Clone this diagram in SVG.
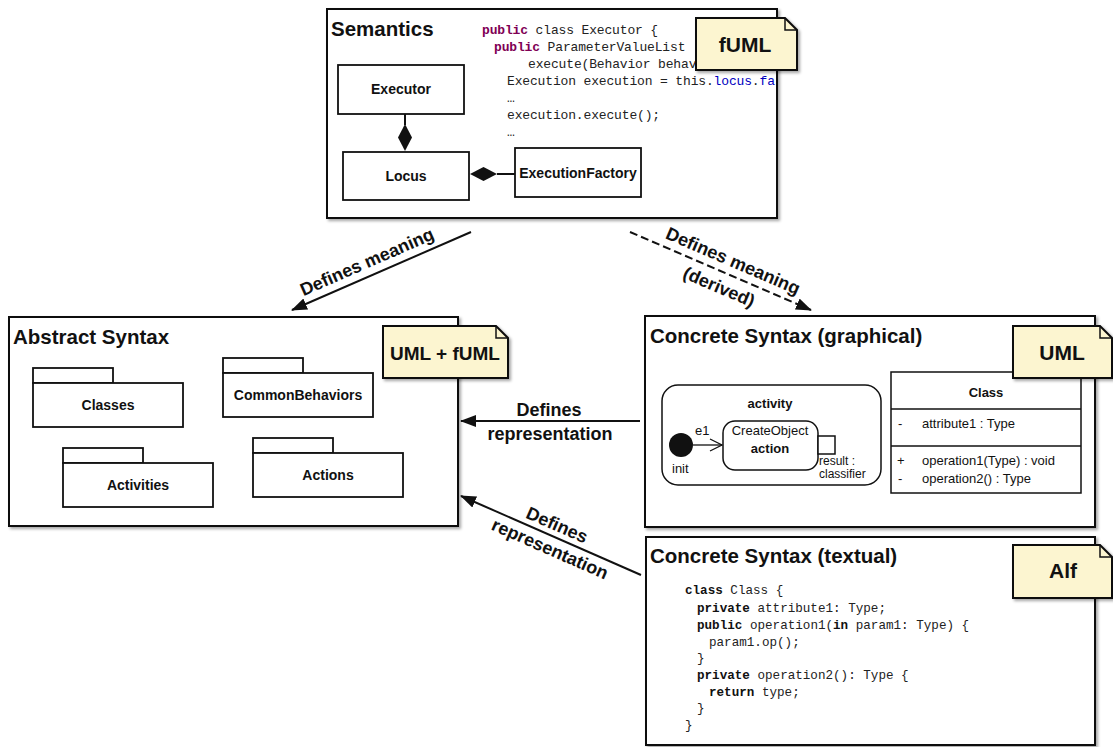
<svg xmlns="http://www.w3.org/2000/svg" width="1113" height="747" viewBox="0 0 1113 747">
<style>
.box{fill:#fff;stroke:#111;stroke-width:2}
.ibox{fill:#fff;stroke:#111;stroke-width:1.8}
.note{fill:#FCF5D0;stroke:#111;stroke-width:2}
.fold{fill:none;stroke:#111;stroke-width:1.5}
.title{font-family:"Liberation Sans",Arial,sans-serif;font-weight:bold;font-size:20.5px;fill:#111}
.nt{font-family:"Liberation Sans",Arial,sans-serif;font-weight:bold;font-size:21px;fill:#111;text-anchor:middle}
.lbl{font-family:"Liberation Sans",Arial,sans-serif;font-weight:bold;font-size:14px;fill:#111;text-anchor:middle}
.sm{font-family:"Liberation Sans",Arial,sans-serif;font-size:13px;fill:#111}
.xs{font-family:"Liberation Sans",Arial,sans-serif;font-size:12px;fill:#111}
.smb{font-family:"Liberation Sans",Arial,sans-serif;font-size:13px;font-weight:bold;fill:#111}
.conn{font-family:"Liberation Sans",Arial,sans-serif;font-weight:bold;font-size:18px;fill:#111;text-anchor:middle}
.code{font-family:"Liberation Mono","DejaVu Sans Mono",monospace;font-size:13px;letter-spacing:-0.15px;fill:#222}
.alf{font-family:"Liberation Mono","DejaVu Sans Mono",monospace;font-size:12.6px;fill:#222}
.kw{fill:#7F0055;font-weight:bold}
.fld{fill:#0000C0}
.b{font-weight:bold;fill:#111}
.edge{fill:none;stroke:#111;stroke-width:2}
</style>
<defs>
<filter id="sh" x="-5%" y="-5%" width="115%" height="115%">
<feDropShadow dx="2" dy="2" stdDeviation="1.5" flood-color="#000" flood-opacity="0.35"/>
</filter>
<marker id="ah" markerUnits="userSpaceOnUse" markerWidth="16" markerHeight="12" refX="15" refY="6" orient="auto">
<path d="M0,0 L16,6 L0,12 Z" fill="#111"/>
</marker>
<clipPath id="semclip"><rect x="328" y="10" width="448" height="207"/></clipPath>
</defs>

<!-- Semantics -->
<g id="semantics">
<rect class="box" x="327" y="9" width="450" height="209" filter="url(#sh)"/>
<text class="title" x="331" y="36">Semantics</text>
<g clip-path="url(#semclip)">
<text class="code" x="482" y="34"><tspan class="kw">public</tspan> class Executor {</text>
<text class="code" x="494" y="51"><tspan class="kw">public</tspan> ParameterValueList</text>
<text class="code" x="528" y="68">execute(Behavior behav</text>
<text class="code" x="507" y="85">Execution execution = this.<tspan class="fld">locus</tspan>.<tspan class="fld">fa</tspan></text>
<text class="code" x="507" y="102">…</text>
<text class="code" x="507" y="119">execution.execute();</text>
<text class="code" x="507" y="136">…</text>
</g>
<g id="executor">
<rect class="ibox" x="338" y="65" width="126" height="49"/>
<text class="lbl" x="401" y="94">Executor</text>
</g>
<g id="locus">
<rect class="ibox" x="343" y="152" width="126" height="48"/>
<text class="lbl" x="406" y="181">Locus</text>
</g>
<g id="executionFactory">
<rect class="ibox" x="515" y="148" width="126" height="49"/>
<text class="lbl" x="578" y="178">ExecutionFactory</text>
</g>
<line class="edge" x1="405" y1="114" x2="405" y2="125" stroke-width="1.5"/>
<path d="M405,124 L412,137.5 L405,151 L398,137.5 Z" fill="#111"/>
<line class="edge" x1="497" y1="174" x2="515" y2="174" stroke-width="1.5"/>
<path d="M470,174 L483.5,167 L497,174 L483.5,181 Z" fill="#111"/>
</g>
<g id="note-fuml">
<path class="note" d="M696,18 H785 L797,30 V70 H696 Z" filter="url(#sh)"/>
<path class="fold" d="M785,18 V30 H797"/>
<text class="nt" x="745" y="52">fUML</text>
</g>

<!-- Abstract Syntax -->
<g id="abstract">
<rect class="box" x="9" y="317" width="449" height="209" filter="url(#sh)"/>
<text class="title" x="13" y="344">Abstract Syntax</text>
<g id="pkg-classes">
<rect class="ibox" x="33" y="368" width="80" height="15"/>
<rect class="ibox" x="33" y="383" width="150" height="44"/>
<text class="lbl" x="108" y="410">Classes</text>
</g>
<g id="pkg-common">
<rect class="ibox" x="223" y="358" width="80" height="15"/>
<rect class="ibox" x="223" y="373" width="150" height="44"/>
<text class="lbl" x="298" y="400">CommonBehaviors</text>
</g>
<g id="pkg-activities">
<rect class="ibox" x="63" y="448" width="80" height="15"/>
<rect class="ibox" x="63" y="463" width="150" height="44"/>
<text class="lbl" x="138" y="490">Activities</text>
</g>
<g id="pkg-actions">
<rect class="ibox" x="253" y="438" width="80" height="15"/>
<rect class="ibox" x="253" y="453" width="150" height="44"/>
<text class="lbl" x="328" y="480">Actions</text>
</g>
</g>
<g id="note-umlfuml">
<path class="note" d="M383,326 H496 L508,338 V378 H383 Z" filter="url(#sh)"/>
<path class="fold" d="M496,326 V338 H508"/>
<text class="nt" x="445" y="360" style="font-size:19px">UML + fUML</text>
</g>

<!-- Concrete Syntax (graphical) -->
<g id="graphical">
<rect class="box" x="645" y="316" width="450" height="211" filter="url(#sh)"/>
<text class="title" x="650" y="343">Concrete Syntax (graphical)</text>
<g id="activity">
<rect x="662" y="385" width="219" height="100" rx="16" fill="#fff" stroke="#111" stroke-width="1.5"/>
<text class="smb" x="770" y="408" text-anchor="middle">activity</text>
<circle cx="681" cy="445" r="12" fill="#111"/>
<text class="sm" x="672" y="473">init</text>
<line x1="693" y1="445" x2="722" y2="445" stroke="#111" stroke-width="1.3"/>
<path d="M710,439 L722,445 L710,451" fill="none" stroke="#111" stroke-width="1.3"/>
<text class="sm" x="695" y="435">e1</text>
<rect x="723" y="421" width="95" height="49" rx="12" fill="#fff" stroke="#111" stroke-width="1.5"/>
<text class="sm" x="770" y="435" text-anchor="middle">CreateObject</text>
<text class="smb" x="770" y="453" text-anchor="middle">action</text>
<rect x="818" y="436" width="17" height="18" fill="#fff" stroke="#111" stroke-width="1.5"/>
<text class="xs" x="819" y="465">result :</text>
<text class="xs" x="819" y="478">classifier</text>
</g>
<g id="class">
<rect x="891" y="372" width="190" height="121" fill="#fff" stroke="#111" stroke-width="1.5"/>
<line x1="891" y1="409" x2="1081" y2="409" stroke="#111" stroke-width="1.5"/>
<line x1="891" y1="446" x2="1081" y2="446" stroke="#111" stroke-width="1.5"/>
<text class="smb" x="986" y="397" text-anchor="middle">Class</text>
<text class="sm" x="898" y="428">-</text>
<text class="sm" x="922" y="428">attribute1 : Type</text>
<text class="sm" x="897" y="465">+</text>
<text class="sm" x="922" y="465">operation1(Type) : void</text>
<text class="sm" x="898" y="483">-</text>
<text class="sm" x="922" y="483">operation2() : Type</text>
</g>
</g>
<g id="note-uml">
<path class="note" d="M1013,326 H1100 L1112,338 V378 H1013 Z" filter="url(#sh)"/>
<path class="fold" d="M1100,326 V338 H1112"/>
<text class="nt" x="1062" y="360">UML</text>
</g>

<!-- Concrete Syntax (textual) -->
<g id="textual">
<rect class="box" x="646" y="537" width="449" height="208" filter="url(#sh)"/>
<text class="title" x="650" y="563">Concrete Syntax (textual)</text>
<text class="alf" x="685" y="594"><tspan class="b">class</tspan> Class {</text>
<text class="alf" x="697" y="612"><tspan class="b">private</tspan> attribute1: Type;</text>
<text class="alf" x="697" y="629"><tspan class="b">public</tspan> operation1(<tspan class="b">in</tspan> param1: Type) {</text>
<text class="alf" x="709" y="646">param1.op();</text>
<text class="alf" x="697" y="662">}</text>
<text class="alf" x="697" y="679"><tspan class="b">private</tspan> operation2(): Type {</text>
<text class="alf" x="709" y="696"><tspan class="b">return</tspan> type;</text>
<text class="alf" x="697" y="712">}</text>
<text class="alf" x="685" y="729">}</text>
</g>
<g id="note-alf">
<path class="note" d="M1013,545 H1100 L1112,557 V598 H1013 Z" filter="url(#sh)"/>
<path class="fold" d="M1100,545 V557 H1112"/>
<text class="nt" x="1063" y="578">Alf</text>
</g>

<!-- Connectors -->
<g id="connectors">
<line class="edge" x1="471" y1="232" x2="292" y2="310" marker-end="url(#ah)"/>
<text class="conn" transform="translate(367,262) rotate(-23.6)" x="0" y="6">Defines meaning</text>
<line class="edge" x1="630" y1="232" x2="811" y2="310" stroke-dasharray="8,4" marker-end="url(#ah)"/>
<text class="conn" transform="translate(733,261) rotate(23.3)" x="0" y="6">Defines meaning</text>
<text class="conn" transform="translate(719,287) rotate(23.3)" x="0" y="6">(derived)</text>
<line class="edge" x1="640" y1="421" x2="461" y2="421" marker-end="url(#ah)"/>
<text class="conn" x="549" y="416">Defines</text>
<text class="conn" x="550" y="440">representation</text>
<line class="edge" x1="641" y1="575" x2="461" y2="496" marker-end="url(#ah)"/>
<text class="conn" transform="translate(557,525) rotate(23.7)" x="0" y="6">Defines</text>
<text class="conn" transform="translate(550,549) rotate(23.7)" x="0" y="6">representation</text>
</g>
</svg>
